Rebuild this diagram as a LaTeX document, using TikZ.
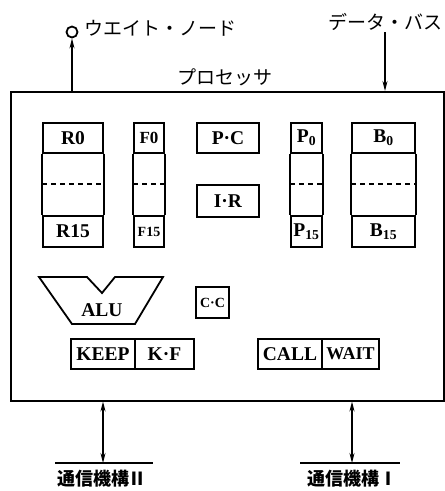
\documentclass[tikz,border=0pt]{standalone}
\usepackage{fontspec}
\setmainfont{Liberation Serif}
\newfontfamily\jp{Noto Sans CJK JP}
\usetikzlibrary{arrows.meta}
\begin{document}
\begin{tikzpicture}[x=1pt,y=-1pt,
  cell/.style={draw, line width=1.8pt, inner sep=0pt, minimum height=30pt, font=\fontsize{19.5}{19.5}\selectfont\bfseries},
  jplabel/.style={inner sep=0pt, font=\fontsize{19}{19}\selectfont\jp},
  arr/.style={line width=1.3pt, -{Stealth[length=10pt,width=5pt]}},
  darr/.style={line width=1.3pt, {Stealth[length=10pt,width=5pt]}-{Stealth[length=10pt,width=5pt]}},
  stackside/.style={line width=1.8pt},
  dashline/.style={line width=1.8pt, dash pattern=on 5pt off 4pt}]
\useasboundingbox (0,0) rectangle (445,491);
% processor box
\node[draw, line width=1.5pt, inner sep=0pt, minimum width=433pt, minimum height=309pt, anchor=north west] (proc) at (10,91) {};
\node[jplabel] (proclabel) at (225,77) {プロセッサ};
% wait node
\node[draw, circle, line width=1.8pt, inner sep=0pt, minimum size=11pt] (wn) at (72,32) {};
\node[jplabel, anchor=west] (wnlabel) at (84,28) {ウエイト・ノード};
\draw[arr] (wn.south |- proc.north) -- (wn.south);
% data bus
\node[jplabel, anchor=east] (dblabel) at (443,22) {データ・バス};
\coordinate (dbtop) at (385,32);
\draw[arr] (dbtop) -- (dbtop |- proc.north);
% R stack
\node[cell, minimum width=60pt] (r0) at (73,138) {R0};
\node[cell, minimum width=60pt, minimum height=31pt] (r15) at (73,231.5) {R15};
\draw[stackside] (r0.south west) -- (r15.north west) (r0.south east) -- (r15.north east);
\draw[dashline] (r0.south west |- 0,184) -- (r0.south east |- 0,184);
% F stack
\node[cell, minimum width=30pt, font=\fontsize{17}{17}\selectfont\bfseries] (f0) at (149,138) {F0};
\node[cell, minimum width=30pt, minimum height=31pt, font=\fontsize{14}{14}\selectfont\bfseries] (f15) at (149,231.5) {F15};
\draw[stackside] (f0.south west) -- (f15.north west) (f0.south east) -- (f15.north east);
\draw[dashline] (f0.south west |- 0,184) -- (f0.south east |- 0,184);
% PC, IR
\node[cell, minimum width=62pt] (pc) at (228,138) {P·C};
\node[cell, minimum width=62pt, minimum height=32pt] (ir) at (228,201) {I·R};
% P stack
\node[cell, minimum width=31pt] (p0) at (306.5,138) {P\textsubscript{0}};
\node[cell, minimum width=31pt, minimum height=31pt] (p15) at (306.5,231.5) {P\textsubscript{15}};
\draw[stackside] (p0.south west) -- (p15.north west) (p0.south east) -- (p15.north east);
\draw[dashline] (p0.south west |- 0,184) -- (p0.south east |- 0,184);
% B stack
\node[cell, minimum width=63pt] (b0) at (383.5,138) {B\textsubscript{0}};
\node[cell, minimum width=63pt, minimum height=31pt] (b15) at (383.5,231.5) {B\textsubscript{15}};
\draw[stackside] (b0.south west) -- (b15.north west) (b0.south east) -- (b15.north east);
\draw[dashline] (b0.south west |- 0,184) -- (b0.south east |- 0,184);
% ALU
\draw[line width=1.8pt, line join=miter] (39,277) -- (87,277) -- (102,293) -- (115,277) -- (163,277) -- (135,324) -- (72,324) -- cycle;
\node[inner sep=0pt, font=\fontsize{19.5}{19.5}\selectfont\bfseries] (alu) at (102,310) {ALU};
% CC
\node[cell, minimum width=33pt, minimum height=31pt, font=\fontsize{14}{14}\selectfont\bfseries] (cc) at (212.5,302.5) {C·C};
% KEEP K.F
\node[cell, minimum width=64pt] (keep) at (103,354) {KEEP};
\node[cell, minimum width=59pt] (kf) at (164.5,354) {K·F};
% CALL WAIT
\node[cell, minimum width=64pt] (call) at (290,354) {CALL};
\node[cell, minimum width=57pt, font=\fontsize{18}{18}\selectfont\bfseries] (wait) at (350.5,354) {WAIT};
% communication units
\node[jplabel, font=\fontsize{18}{18}\selectfont\jp\bfseries] (c2) at (102,479) {通信機構Ⅱ};
\node[jplabel, font=\fontsize{18}{18}\selectfont\jp\bfseries] (c1) at (352,479) {通信機構Ⅰ};
\coordinate (c2l) at (55,463);
\coordinate (c2r) at (153,463);
\coordinate (c1l) at (300,463);
\coordinate (c1r) at (400,463);
\draw[line width=1.5pt] (c2l) -- (c2r);
\draw[line width=1.5pt] (c1l) -- (c1r);
\draw[darr] (103,0 |- proc.south) -- (103,463);
\draw[darr] (352,0 |- proc.south) -- (352,463);
\end{tikzpicture}
\end{document}
